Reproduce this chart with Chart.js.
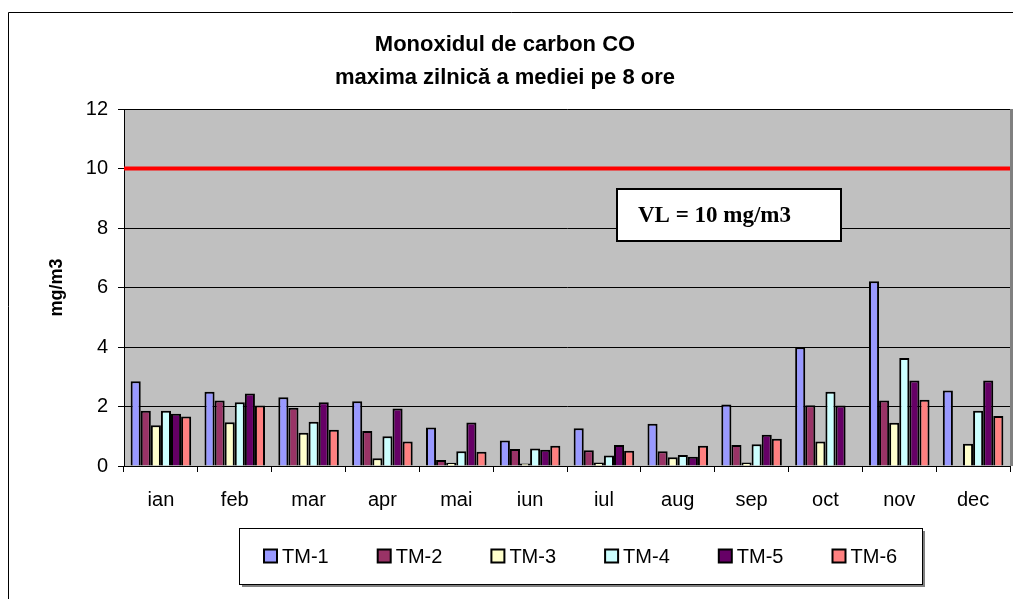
<!DOCTYPE html>
<html>
<head>
<meta charset="utf-8">
<script src="https://cdn.jsdelivr.net/npm/chart.js@4.4.1/dist/chart.umd.min.js"></script>
<style>
  html, body { margin: 0; padding: 0; background: #fff; }
  canvas { display: block; }
</style>
</head>
<body>
<canvas id="chart" width="1013" height="599"></canvas>
<script>
const months = ['ian', 'feb', 'mar', 'apr', 'mai', 'iun', 'iul', 'aug', 'sep', 'oct', 'nov', 'dec'];
const tm1 = [2.85, 2.50, 2.31, 2.18, 1.29, 0.86, 1.27, 1.42, 2.07, 3.99, 6.21, 2.54];
const tm2 = [1.86, 2.20, 1.96, 1.18, 0.20, 0.57, 0.53, 0.50, 0.71, 2.04, 2.20, null];
const tm3 = [1.37, 1.47, 1.12, 0.26, 0.11, 0.08, 0.12, 0.29, 0.12, 0.82, 1.45, 0.75];
const tm4 = [1.86, 2.14, 1.49, 1.00, 0.50, 0.59, 0.35, 0.37, 0.73, 2.50, 3.63, 1.86];
const tm5 = [1.76, 2.44, 2.14, 1.93, 1.46, 0.55, 0.71, 0.31, 1.05, 2.03, 2.87, 2.87];
const tm6 = [1.66, 2.03, 1.22, 0.82, 0.48, 0.68, 0.51, 0.68, 0.92, null, 2.23, 1.68];
const seriesNames = ['TM-1', 'TM-2', 'TM-3', 'TM-4', 'TM-5', 'TM-6'];
const seriesColors = ['#9999FF', '#993366', '#FFFFCC', '#CCFFFF', '#660066', '#FF8080'];
const yTicks = [0, 2, 4, 6, 8, 10, 12];
const limitValue = 10;
const limitText = 'VL = 10 mg/m3';

const sans = "'Liberation Sans', Arial, sans-serif";
Chart.defaults.font.family = sans;
Chart.defaults.color = '#000';

// title in the original is a narrow bold face; use it if it is installed
const probe = document.createElement('canvas').getContext('2d');
probe.font = "bold 27px 'Liberation Sans Narrow', monospace";
const wNarrow = probe.measureText('Monoxidul de carbon').width;
probe.font = 'bold 27px monospace';
const wMono = probe.measureText('Monoxidul de carbon').width;
const hasNarrow = Math.abs(wNarrow - wMono) > 1;
const titleFont = hasNarrow
    ? { family: "'Liberation Sans Narrow', " + sans, size: 27, weight: 'bold', lineHeight: 1.22 }
    : { size: 22, weight: 'bold', lineHeight: 1.5 };

const ctx = document.querySelector('#chart').getContext('2d');

const datasets = [tm1, tm2, tm3, tm4, tm5, tm6].map((vals, i) => ({
    label: seriesNames[i],
    data: vals,
    backgroundColor: seriesColors[i],
    borderColor: '#000',
    borderWidth: 2,
    categoryPercentage: 0.82,
    barPercentage: 1.0
}));

const decor = {
    id: 'decor',
    beforeDraw(chart) {
        const c = chart.ctx;
        const a = chart.chartArea;
        c.save();
        c.fillStyle = '#fff';
        c.fillRect(0, 0, chart.width, chart.height);
        c.fillStyle = '#C0C0C0';
        c.fillRect(a.left, a.top, a.right - a.left, a.bottom - a.top);
        c.restore();
    },
    afterDatasetsDraw(chart) {
        const c = chart.ctx;
        const a = chart.chartArea;
        const y = chart.scales.y.getPixelForValue(limitValue);
        c.save();
        // limit line
        c.strokeStyle = '#FF0000';
        c.lineWidth = 4;
        c.beginPath();
        c.moveTo(a.left, y);
        c.lineTo(a.right, y);
        c.stroke();
        // plot border (right side shows as grey strip)
        c.fillStyle = '#808080';
        c.fillRect(a.right, a.top, 3, a.bottom - a.top);
        // VL box
        c.fillStyle = '#fff';
        c.fillRect(617, 189, 224, 52);
        c.strokeStyle = '#000';
        c.lineWidth = 2;
        c.strokeRect(617, 189, 224, 52);
        c.fillStyle = '#000';
        c.font = "bold 23px 'Liberation Serif', 'Times New Roman', serif";
        c.textBaseline = 'middle';
        c.textAlign = 'left';
        c.fillText(limitText, 638, 216);
        c.restore();
    },
    afterDraw(chart) {
        const c = chart.ctx;
        c.save();
        // outer chart border
        c.strokeStyle = '#000';
        c.lineWidth = 1;
        c.beginPath();
        c.moveTo(8.5, chart.height + 2);
        c.lineTo(8.5, 12.5);
        c.lineTo(chart.width + 2, 12.5);
        c.stroke();
        // legend box with shadow
        const lx = 239, ly = 528, lw = 683, lh = 56;
        c.fillStyle = '#808080';
        c.fillRect(lx + 3, ly + 3, lw, lh);
        c.fillStyle = '#fff';
        c.fillRect(lx, ly, lw, lh);
        c.strokeStyle = '#000';
        c.strokeRect(lx + 0.5, ly + 0.5, lw, lh);
        c.font = '20px ' + sans;
        c.textBaseline = 'middle';
        c.textAlign = 'left';
        chart.data.datasets.forEach((ds, i) => {
            const x = lx + 25 + i * 113.7;
            const cy = ly + 28;
            c.fillStyle = ds.backgroundColor;
            c.fillRect(x, cy - 6.5, 13, 13);
            c.lineWidth = 2;
            c.strokeStyle = '#000';
            c.strokeRect(x, cy - 6.5, 13, 13);
            c.fillStyle = '#000';
            c.fillText(ds.label, x + 18, cy + 1);
        });
        c.restore();
    }
};

const chart = new Chart(ctx, {
    type: 'bar',
    data: {
        labels: months,
        datasets: datasets
    },
    options: {
        responsive: false,
        animation: false,
        layout: {
            padding: { left: 0, right: 3, top: 0, bottom: 0 }
        },
        plugins: {
            legend: { display: false },
            tooltip: { enabled: false },
            title: {
                display: true,
                text: ['Monoxidul de carbon CO', 'maxima zilnică a mediei pe 8 ore'],
                font: titleFont,
                color: '#000',
                padding: { top: 28, bottom: 15 }
            }
        },
        scales: {
            x: {
                grid: {
                    display: true,
                    drawOnChartArea: false,
                    tickLength: 6,
                    color: '#000'
                },
                border: { color: '#000' },
                ticks: {
                    font: { size: 20 },
                    padding: 16,
                    maxRotation: 0
                },
                afterFit: (scale) => { scale.height = 133; }
            },
            y: {
                min: 0,
                max: 12,
                afterBuildTicks: (scale) => {
                    scale.ticks = yTicks.map(v => ({ value: v }));
                },
                grid: {
                    color: '#000',
                    lineWidth: 1,
                    tickLength: 6
                },
                border: { color: '#000' },
                ticks: {
                    font: { size: 20 },
                    padding: 10
                },
                title: {
                    display: true,
                    text: 'mg/m3',
                    font: { size: 18, weight: 'bold' },
                    padding: { top: 46, bottom: 0 }
                },
                afterFit: (scale) => { scale.width = 124; }
            }
        }
    },
    plugins: [decor]
});
</script>
</body>
</html>
